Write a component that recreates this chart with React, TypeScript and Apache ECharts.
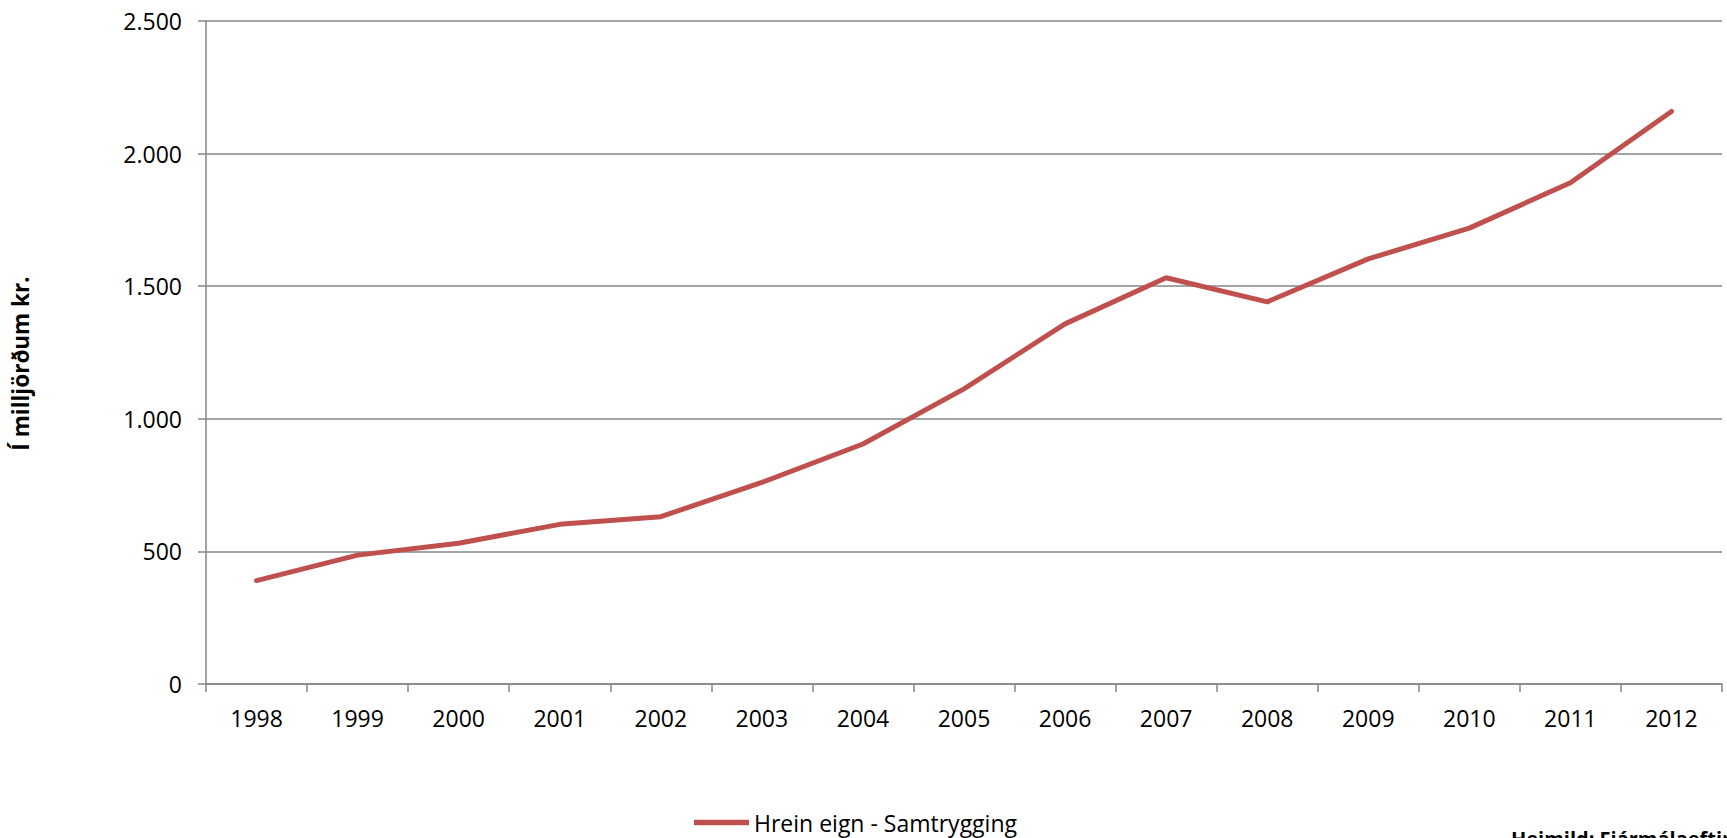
import React, { useEffect, useRef } from "react";
import * as echarts from "echarts";

const years = ["1998", "1999", "2000", "2001", "2002", "2003", "2004", "2005", "2006", "2007", "2008", "2009", "2010", "2011", "2012"];
const netAssets = [390, 486, 531, 602, 631, 760, 905, 1113, 1358, 1532, 1441, 1603, 1719, 1890, 2159];
const seriesName = "Hrein eign - Samtrygging";
const yAxisTitle = "Í milljörðum kr.";
const sourceText = "Heimild: Fjármálaeftirlitið";

const fmt = (v: number) => String(v).replace(/\B(?=(\d{3})+(?!\d))/g, ".");

export default function App() {
  const ref = useRef<HTMLDivElement>(null);
  useEffect(() => {
    if (!ref.current) return;
    const chart = echarts.init(ref.current, null, { renderer: "svg" });
    const font = "'Open Sans', sans-serif";
    chart.setOption({
      animation: false,
      backgroundColor: "#ffffff",
      textStyle: { fontFamily: font },
      grid: { left: 206, right: 5, top: 21, bottom: 154, containLabel: false },
      legend: {
        left: 689,
        top: 806,
        itemWidth: 55,
        itemHeight: 14,
        itemGap: 10,
        textStyle: { fontSize: 23, color: "#000", fontFamily: font },
        data: [{ name: seriesName, icon: "path://M0,0 L10,0 L10,1 L0,1 Z" }],
      },
      xAxis: {
        type: "category",
        data: years,
        boundaryGap: true,
        axisLine: { lineStyle: { color: "#868686", width: 1.5 } },
        axisTick: { show: true, length: 8, lineStyle: { color: "#868686", width: 1.5 } },
        axisLabel: { fontSize: 23, color: "#000", margin: 22, fontFamily: font },
      },
      yAxis: {
        type: "value",
        min: 0,
        max: 2500,
        interval: 500,
        name: yAxisTitle,
        nameLocation: "middle",
        nameGap: 174,
        nameRotate: 90,
        nameTextStyle: { fontSize: 22.5, fontWeight: "bold", color: "#000", fontFamily: font, padding: [0, 22, 0, 0] },
        axisLine: { show: true, lineStyle: { color: "#868686", width: 1.5 } },
        axisTick: { show: true, length: 8, lineStyle: { color: "#868686", width: 1.5 } },
        splitLine: { show: true, lineStyle: { color: "#868686", width: 1.5 } },
        axisLabel: { fontSize: 23, color: "#000", margin: 24, fontFamily: font, formatter: (v: number) => fmt(v) },
      },
      series: [
        {
          name: seriesName,
          type: "line",
          data: netAssets,
          symbol: "none",
          lineStyle: { color: "#C0504D", width: 5, cap: "round", join: "round" },
          itemStyle: { color: "#C0504D" },
        },
      ],
      graphic: [
        {
          type: "text",
          left: 1511,
          top: 828,
          style: { text: sourceText, fontSize: 20, fontWeight: "bold", fill: "#000", fontFamily: font },
        },
      ],
    });
    return () => chart.dispose();
  }, []);
  return <div ref={ref} style={{ position: "absolute", left: 0, top: 0, width: 1727, height: 838 }} />;
}
